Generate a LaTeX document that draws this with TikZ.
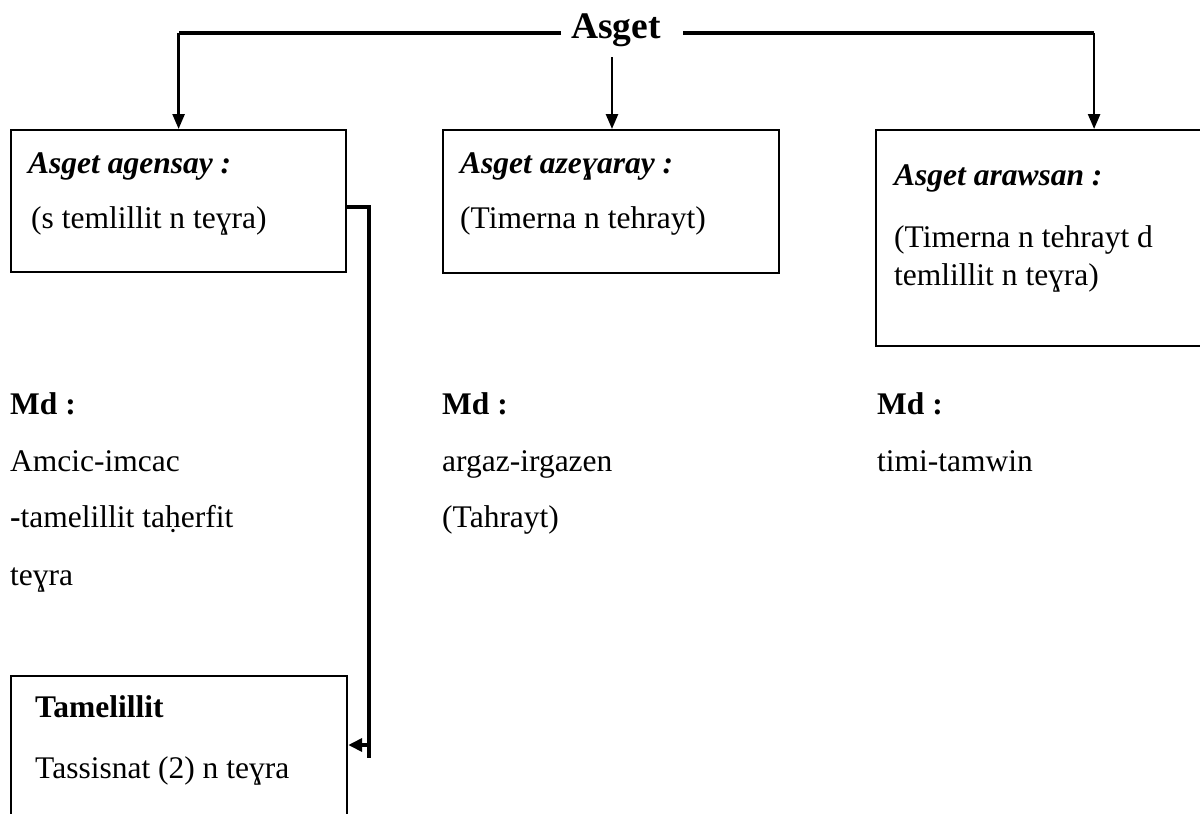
\documentclass[tikz,border=0pt]{standalone}
\usepackage{fontspec}
\setmainfont{Liberation Serif}
\usetikzlibrary{arrows.meta}
\begin{document}
\begin{tikzpicture}[x=1pt,y=-1pt,
  box/.style={draw,line width=2.2pt,inner sep=0pt,anchor=north west},
  txt/.style={anchor=base west,inner sep=0pt,font=\fontsize{31.5}{38}\selectfont},
  head/.style={txt,font=\fontsize{31.5}{38}\selectfont\bfseries\itshape},
  bhead/.style={txt,font=\fontsize{31.5}{38}\selectfont\bfseries},
  thickline/.style={line width=4pt},
  arrowline/.style={line width=2.5pt,-{Triangle[length=15pt,width=12pt]}},
  sidearrow/.style={line width=4pt,-{Triangle[length=14pt,width=13pt]}}]
\useasboundingbox (0,0) rectangle (1200,814);
% title
\node[anchor=base,inner sep=0pt,font=\fontsize{37.5}{42}\selectfont\bfseries] (asget) at (616,38) {Asget};
\coordinate (tl) at (561,33);
\coordinate (tr) at (683,33);
% boxes
\node[box,minimum width=335pt,minimum height=142pt] (box1) at (10,129) {};
\node[box,minimum width=336pt,minimum height=143pt] (box2) at (442,129) {};
\node[box,minimum width=436pt,minimum height=216pt] (box3) at (875,129) {};
\node[box,minimum width=336pt,minimum height=250pt] (box4) at (10,675) {};
% box texts
\node[head] (b1a) at (28,173) {Asget agensay :};
\node[txt] (b1b) at (31,228) {(s temlillit n teɣra)};
\node[head] (b2a) at (460,173) {Asget azeɣaray :};
\node[txt] (b2b) at (460,228) {(Timerna n tehrayt)};
\node[head] (b3a) at (894,185) {Asget arawsan :};
\node[txt] (b3b) at (894,247) {(Timerna n tehrayt d};
\node[txt] (b3c) at (894,285) {temlillit n teɣra)};
\node[bhead] (b4a) at (35,717) {Tamelillit};
\node[txt] (b4b) at (35,778) {Tassisnat (2) n teɣra};
% examples
\node[bhead] (md1) at (10,414) {Md :};
\node[txt] (e1a) at (10,471) {Amcic-imcac};
\node[txt] (e1b) at (10,527) {{\bfseries -}tamelillit taḥerfit};
\node[txt] (e1c) at (10,585) {teɣra};
\node[bhead] (md2) at (442,414) {Md :};
\node[txt] (e2a) at (442,471) {argaz-irgazen};
\node[txt] (e2b) at (442,527) {(Tahrayt)};
\node[bhead] (md3) at (877,414) {Md :};
\node[txt] (e3a) at (877,471) {timi-tamwin};
% connectors from title
\draw[thickline] (tl) -- (tl -| box1.north) coordinate (c1);
\draw[arrowline] (c1) -- (box1.north);
\draw[thickline] (tr) -- (tr -| box3.north) coordinate (c3);
\draw[arrowline] (c3) -- (box3.north);
\coordinate (c2) at (612,57);
\draw[arrowline] (c2) -- (c2 |- box2.north);
% side connector box1 -> box4
\coordinate (k1) at (369,207);
\coordinate (k2) at (369,758);
\coordinate (k3) at (369,745);
\draw[thickline] (box1.east |- k1) -- (k1) -- (k2);
\draw[sidearrow] (k3) -- (box4.east |- k3);
\end{tikzpicture}
\end{document}
